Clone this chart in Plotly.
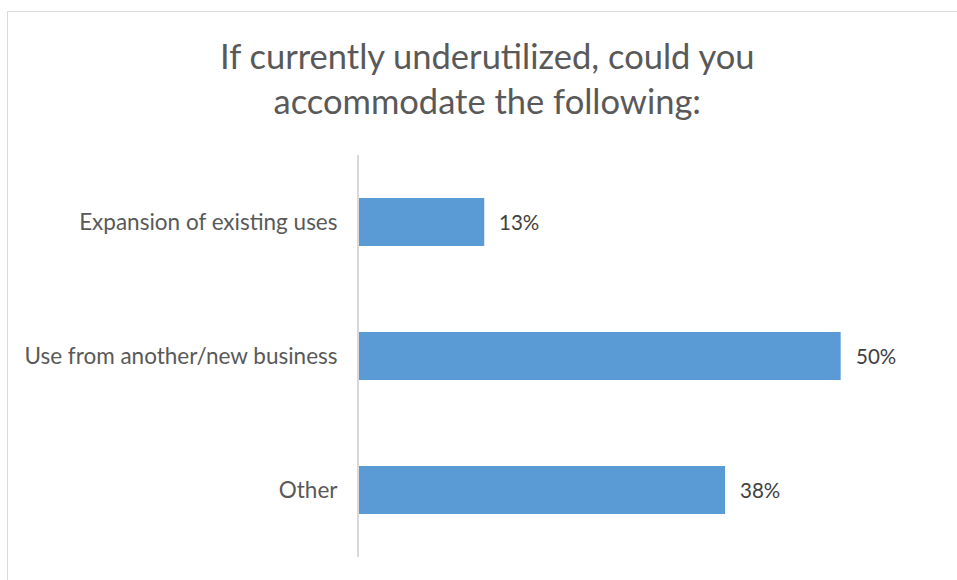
import plotly.graph_objects as go

categories = ["Expansion of existing uses", "Use from another/new business", "Other"]
values = [13, 50, 38]
value_labels = ["13%", "50%", "38%"]
title_lines = ["If currently underutilized, could you", "accommodate the following:"]

W, H = 957, 580
ML, MR, MT, MB = 359, 20, 155, 23
plot_w = W - ML - MR
plot_h = H - MT - MB

BAR = "#5B9BD5"
FONT = "Lato, 'Open Sans', sans-serif"

fig = go.Figure(
    go.Bar(
        y=categories,
        x=values,
        orientation="h",
        marker=dict(color=BAR, line=dict(width=0)),
        hoverinfo="skip",
    )
)

# value labels to the right of each bar
for cat, v, lab in zip(categories, values, value_labels):
    fig.add_annotation(
        x=v, y=cat, text=lab, showarrow=False,
        xanchor="left", xshift=13,
        font=dict(family=FONT, size=20.5, color="#404040"),
    )

# two-line title
fig.add_annotation(
    xref="paper", yref="paper",
    x=(487 - ML) / plot_w, y=(H - MB - 78) / plot_h,
    text="<br>".join(title_lines), showarrow=False,
    xanchor="center", yanchor="middle",
    font=dict(family=FONT, size=34.5, color="#595959"),
)

# chart frame
def px_x(p):
    return (p - ML) / plot_w

def px_y(p):
    return (H - MB - p) / plot_h

fig.add_shape(
    type="rect", xref="paper", yref="paper",
    x0=px_x(7.5), x1=px_x(W + 5), y0=px_y(H + 5), y1=px_y(11.5),
    line=dict(color="#D9D9D9", width=1), fillcolor="rgba(0,0,0,0)",
    layer="below",
)

fig.update_layout(
    width=W, height=H,
    margin=dict(l=ML, r=MR, t=MT, b=MB),
    paper_bgcolor="white", plot_bgcolor="white",
    bargap=0.64,
    showlegend=False,
    xaxis=dict(range=[0, 60], visible=False, fixedrange=True),
    yaxis=dict(
        autorange="reversed",
        showline=True, linecolor="#D9D9D9", linewidth=2,
        showgrid=False, zeroline=False,
        ticks="", ticklabelstandoff=15,
        tickfont=dict(family=FONT, size=22.5, color="#595959"),
        fixedrange=True,
    ),
)

fig.write_html("out.html")
